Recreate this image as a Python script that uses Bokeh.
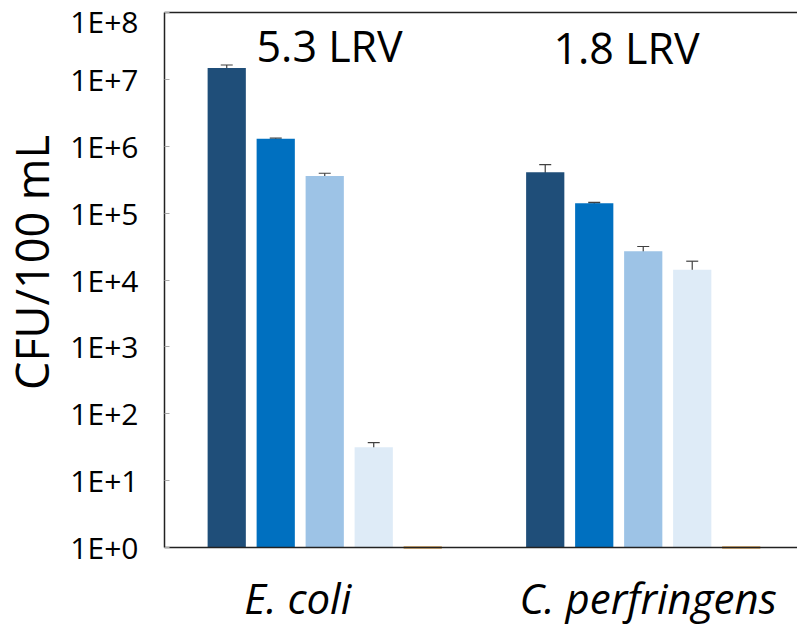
import math
from bokeh.plotting import figure
from bokeh.models import (ColumnDataSource, Range1d, FixedTicker, CustomJSTickFormatter,
                          Whisker, TeeHead, Label, LinearAxis)
from bokeh.core.properties import value
from bokeh.embed import file_html
from bokeh.resources import INLINE

# --- data -------------------------------------------------------------
organisms = ["E. coli", "C. perfringens"]

# CFU/100 mL at each treatment stage (one value per organism)
stage_1 = [1.48e7, 4.1e5]
stage_2 = [1.29e6, 1.41e5]
stage_3 = [3.6e5, 2.7e4]
stage_4 = [31.5, 1.42e4]
stage_5 = [1.0, 1.0]          # below detection

# standard deviations (CFU/100 mL)
stage_1_sd = [1.6e6, 1.2e5]
stage_2_sd = [3.0e4, 4.0e3]
stage_3_sd = [3.5e4, 4.7e3]
stage_4_sd = [5.5, 4.9e3]
stage_5_sd = [0.0, 0.0]

lrv_text = ["5.3 LRV", "1.8 LRV"]
decades = [1, 10, 100, 1e3, 1e4, 1e5, 1e6, 1e7, 1e8]

# --- layout helpers ---------------------------------------------------
series = [stage_1, stage_2, stage_3, stage_4, stage_5]
series_sd = [stage_1_sd, stage_2_sd, stage_3_sd, stage_4_sd, stage_5_sd]
colors = ["#1f4e79", "#0070c0", "#9dc3e6", "#deebf7", "#c07000"]
group_start = [0.0, 6.5]          # slot of the first bar in each group
label_slot = [1.45, 8.6]          # where the organism names sit
lrv_x = [2.1, 8.16]
lrv_y = [10 ** 7.51, 10 ** 7.47]
FONT = "Open Sans"

W, H = 797, 626
AXIS_LEFT_PX, AXIS_TOP_PX, AXIS_BOTTOM_PX = 164, 12, 547
SLOT_PX = 49.0
DECADE_PX = (AXIS_BOTTOM_PX - AXIS_TOP_PX) / 8.0
X_AXIS = -1.27                     # x value where the y axis sits
x_start = X_AXIS - AXIS_LEFT_PX / SLOT_PX
x_end = X_AXIS + (W - AXIS_LEFT_PX) / SLOT_PX
y_start = 10 ** (-(H - AXIS_BOTTOM_PX) / DECADE_PX)
y_end = 10 ** (8 + AXIS_TOP_PX / DECADE_PX)

# the frame fills the canvas; axes are pinned inside it
p = figure(width=W, height=H, output_backend="svg", toolbar_location=None,
           x_range=Range1d(x_start, x_end), y_range=Range1d(y_start, y_end),
           y_axis_type="log",
           min_border_left=0, min_border_right=0, min_border_top=0,
           min_border_bottom=0)
p.outline_line_color = None
p.grid.visible = False
p.background_fill_color = "white"
p.border_fill_color = "white"

for k, (vals, sds, col) in enumerate(zip(series, series_sd, colors)):
    xs = [g + k for g in group_start]
    src = ColumnDataSource(dict(
        x=xs, top=vals, bottom=[1.0] * len(vals),
        upper=[v + s for v, s in zip(vals, sds)],
        lower=[v - s for v, s in zip(vals, sds)],
    ))
    if k == len(series) - 1:
        p.vbar(x="x", top="top", bottom="bottom", width=0.78, source=src,
               fill_color=col, line_color=col, line_width=2)
    else:
        p.vbar(x="x", top="top", bottom="bottom", width=0.78, source=src,
               fill_color=col, line_color=None)
        p.add_layout(Whisker(
            base="x", upper="upper", lower="lower", source=src,
            line_color="#404040", line_width=1.2,
            upper_head=TeeHead(size=12, line_color="#404040", line_width=1.2),
            lower_head=TeeHead(size=12, line_color="#404040", line_width=1.2)))

# LRV annotations
p.text(x=lrv_x, y=lrv_y, text=lrv_text, text_align="center",
       text_baseline="alphabetic", text_font=value(FONT),
       text_font_size="43px", text_color="black")

# y axis
ya = p.yaxis[0]
ya.fixed_location = X_AXIS
ya.bounds = (1, 1e8)
ya.ticker = FixedTicker(ticks=decades)
ya.formatter = CustomJSTickFormatter(code="return '1E+' + Math.round(Math.log10(tick));")
ya.minor_tick_line_color = None
ya.major_tick_in = 5
ya.major_tick_out = 0
ya.major_tick_line_color = "#aaaaaa"
ya.axis_line_color = "#222222"
ya.axis_line_width = 1.5
ya.major_label_standoff = 26
ya.major_label_text_font = FONT
ya.major_label_text_font_size = "30px"
ya.major_label_text_color = "black"

p.add_layout(Label(x=31, y=H - 262, x_units="screen", y_units="screen",
                   text="CFU/100 mL", angle=math.pi / 2, text_align="center",
                   text_baseline="middle", text_font=FONT,
                   text_font_size="45px", text_color="black"))

# x axis at 1E+0 with the organism names
xa = p.xaxis[0]
xa.fixed_location = 1
xa.bounds = (X_AXIS, x_end)
xa.ticker = FixedTicker(ticks=label_slot)
xa.formatter = CustomJSTickFormatter(args=dict(names=organisms),
                                     code="return names[index];")
xa.major_tick_line_color = None
xa.minor_tick_line_color = None
xa.major_tick_in = 0
xa.major_tick_out = 0
xa.axis_line_color = "#222222"
xa.axis_line_width = 1.5
xa.major_label_standoff = 21
xa.major_label_text_font = FONT
xa.major_label_text_font_style = "italic"
xa.major_label_text_font_size = "42px"
xa.major_label_text_color = "black"

# top edge of the plot box
top_edge = LinearAxis(fixed_location=1e8, bounds=(X_AXIS, x_end),
                      ticker=FixedTicker(ticks=[]),
                      major_label_text_font_size="0px",
                      major_tick_line_color=None, minor_tick_line_color=None,
                      axis_line_color="#222222", axis_line_width=1.5)
p.add_layout(top_edge, "above")

open("out.html", "w").write(file_html(p, INLINE))
